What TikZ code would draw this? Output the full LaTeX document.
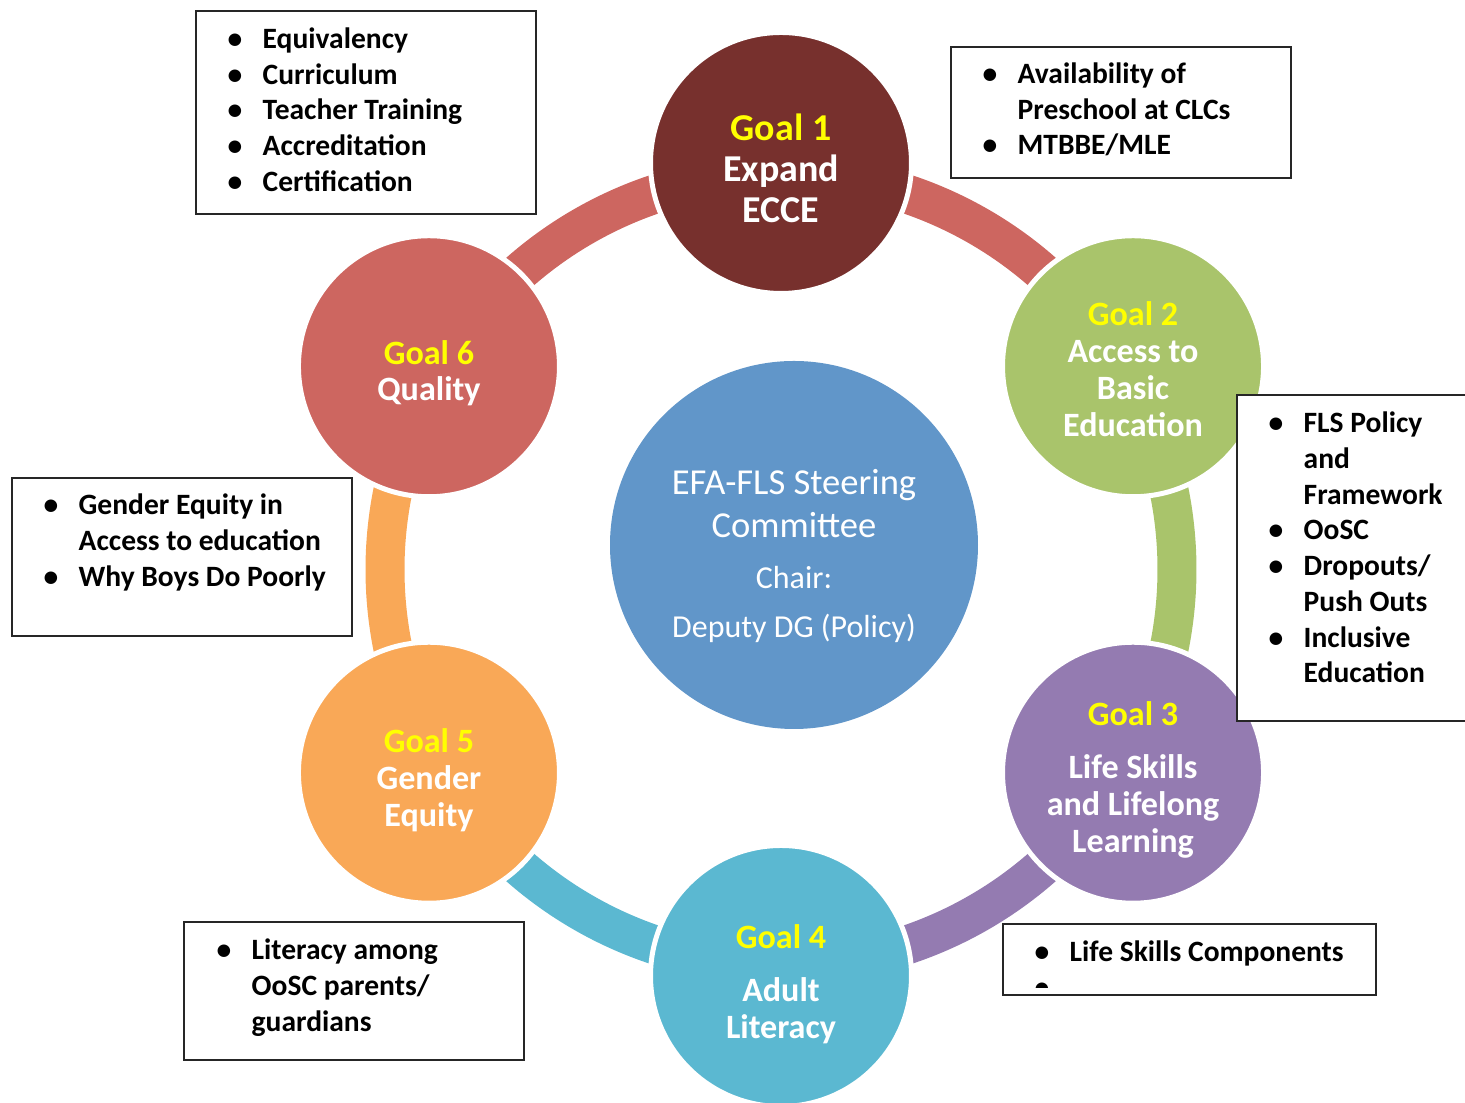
\documentclass[tikz,border=0pt]{standalone}
\usepackage{fontspec}
\setmainfont{Carlito}
\usetikzlibrary{positioning, calc}

\definecolor{goalmaroon}{HTML}{77302D}
\definecolor{goalgreen}{HTML}{A9C46B}
\definecolor{goalpurple}{HTML}{947BB1}
\definecolor{goalcyan}{HTML}{5BB8D1}
\definecolor{goalorange}{HTML}{F9A857}
\definecolor{goalsalmon}{HTML}{CD6660}
\definecolor{hubblue}{HTML}{6196C9}
\definecolor{goalyellow}{HTML}{FFFF00}

\newcommand{\goaltitle}[1]{\textcolor{goalyellow}{#1}}
\newcommand{\bul}{\makebox[0.35cm][l]{\textbullet}}

\tikzset{
  goalcircle/.style={
    circle, minimum size=2.61cm, inner sep=0pt,
    fill=#1, draw=white, line width=0.05cm
  },
  goaltext/.style={
    align=center, text=white, inner sep=0pt,
    font=\fontsize{9.7}{10.5}\selectfont\bfseries
  },
  ringarc/.style={draw=#1, line width=0.39cm},
  hubcircle/.style={
    circle, minimum size=3.68cm, inner sep=0pt, fill=hubblue
  },
  hubtext/.style={
    align=center, text=white, inner sep=0pt,
    font=\fontsize{10.4}{12.2}\selectfont
  },
  infobox/.style={
    rectangle, anchor=north west, inner sep=0pt,
    draw=black!85, line width=0.6pt, fill=white
  },
  bulletlist/.style={
    anchor=base west, inner sep=0pt, text=black,
    font=\fontsize{8.4}{10.15}\selectfont\bfseries
  },
}

\begin{document}
\begin{tikzpicture}
    \useasboundingbox (0,0) rectangle (14.65,11.03);
    \clip (0,0) rectangle (14.65,11.03);

    % ring behind the goals
    \coordinate (hub) at (7.81,5.335);
    \foreach \a/\c in {90/goalsalmon, 30/goalgreen, -30/goalpurple,
                       -90/goalcyan, -150/goalorange, 150/goalsalmon}
      \draw[ringarc=\c] ([shift={(\a:3.96)}]hub)
            arc[start angle=\a, end angle=\a-60, radius=3.96];

    \node[hubcircle] (steer) at (7.94,5.58){};
    \node[hubtext] (steertext) at (7.94,5.47)
         {EFA-FLS Steering\\Committee\\[2.3pt]
          {\fontsize{9.1}{12.2}\selectfont Chair:}\\[1.7pt]
          {\fontsize{9.1}{12.2}\selectfont Deputy DG (Policy)}};

    % goal circles
    \node[goalcircle=goalmaroon] (g1) at ([shift={(90:4.065)}]hub){};
    \node[goalcircle=goalgreen]  (g2) at ([shift={(30:4.065)}]hub){};
    \node[goalcircle=goalpurple] (g3) at ([shift={(-30:4.065)}]hub){};
    \node[goalcircle=goalcyan]   (g4) at ([shift={(-90:4.065)}]hub){};
    \node[goalcircle=goalorange] (g5) at ([shift={(-150:4.065)}]hub){};
    \node[goalcircle=goalsalmon] (g6) at ([shift={(150:4.065)}]hub){};

    \node[goaltext, font=\fontsize{10.8}{11.7}\selectfont\bfseries]
         (t1) at ([yshift=-0.05cm]g1.center){\goaltitle{Goal 1}\\Expand\\ECCE};
    \node[goaltext] (t2) at ([yshift=-0.03cm]g2.center)
         {\goaltitle{Goal 2}\\Access to\\Basic\\Education};
    \node[goaltext] (t3) at ([yshift=-0.075cm]g3.center)
         {\goaltitle{Goal 3}\\[0.16cm]Life Skills\\and Lifelong\\Learning};
    \node[goaltext] (t4) at ([yshift=-0.085cm]g4.center)
         {\goaltitle{Goal 4}\\[0.16cm]Adult\\Literacy};
    \node[goaltext] (t5) at ([yshift=-0.075cm]g5.center)
         {\goaltitle{Goal 5}\\Gender\\Equity};
    \node[goaltext] (t6) at ([yshift=-0.07cm]g6.center)
         {\goaltitle{Goal 6}\\Quality};

    % note boxes
    \node[infobox, minimum width=3.40cm, minimum height=2.03cm] (eqbox) at (1.95,10.93){};
    \node[bulletlist] (eqlist) at ([shift={(0.32,-0.385)}]eqbox.north west)
         {\begin{tabular}[t]{@{}l@{}l@{}}
          \bul & Equivalency\\
          \bul & Curriculum\\
          \bul & Teacher Training\\
          \bul & Accreditation\\
          \bul & Certification
          \end{tabular}};

    \node[infobox, minimum width=3.40cm, minimum height=1.31cm] (ecbox) at (9.50,10.57){};
    \node[bulletlist] (eclist) at ([shift={(0.32,-0.375)}]ecbox.north west)
         {\begin{tabular}[t]{@{}l@{}l@{}}
          \bul & Availability of\\
               & Preschool at CLCs\\
          \bul & MTBBE/MLE
          \end{tabular}};

    \node[infobox, minimum width=2.40cm, minimum height=3.26cm] (basicbox) at (12.36,7.09){};
    \node[bulletlist] (basiclist) at ([shift={(0.32,-0.39)}]basicbox.north west)
         {\begin{tabular}[t]{@{}l@{}l@{}}
          \bul & FLS Policy\\
               & and\\
               & Framework\\
          \bul & OoSC\\
          \bul & Dropouts/\\
               & Push Outs\\
          \bul & Inclusive\\
               & Education
          \end{tabular}};

    \node[infobox, minimum width=3.40cm, minimum height=1.58cm] (gendbox) at (0.11,6.26){};
    \node[bulletlist] (gendlist) at ([shift={(0.32,-0.38)}]gendbox.north west)
         {\begin{tabular}[t]{@{}l@{}l@{}}
          \bul & Gender Equity in\\
               & Access to education\\
          \bul & Why Boys Do Poorly
          \end{tabular}};

    \node[infobox, minimum width=3.40cm, minimum height=1.38cm] (litbox) at (1.83,1.82){};
    \node[bulletlist] (litlist) at ([shift={(0.33,-0.39)}]litbox.north west)
         {\begin{tabular}[t]{@{}l@{}l@{}}
          \bul & Literacy among\\
               & OoSC parents/\\
               & guardians
          \end{tabular}};

    \node[infobox, minimum width=3.73cm, minimum height=0.71cm] (lsbox) at (10.02,1.80){};
    \node[bulletlist] (lslist) at ([shift={(0.32,-0.39)}]lsbox.north west)
         {\begin{tabular}[t]{@{}l@{}l@{}}
          \bul & Life Skills Components
          \end{tabular}};
    % next bullet is cut off by the box
    \begin{scope}
      \clip (lsbox.north west) rectangle ([yshift=0.09cm]lsbox.south east);
      \node[bulletlist] (lsnext) at ([shift={(0.32,-0.747)}]lsbox.north west){\textbullet};
    \end{scope}
\end{tikzpicture}
\end{document}
